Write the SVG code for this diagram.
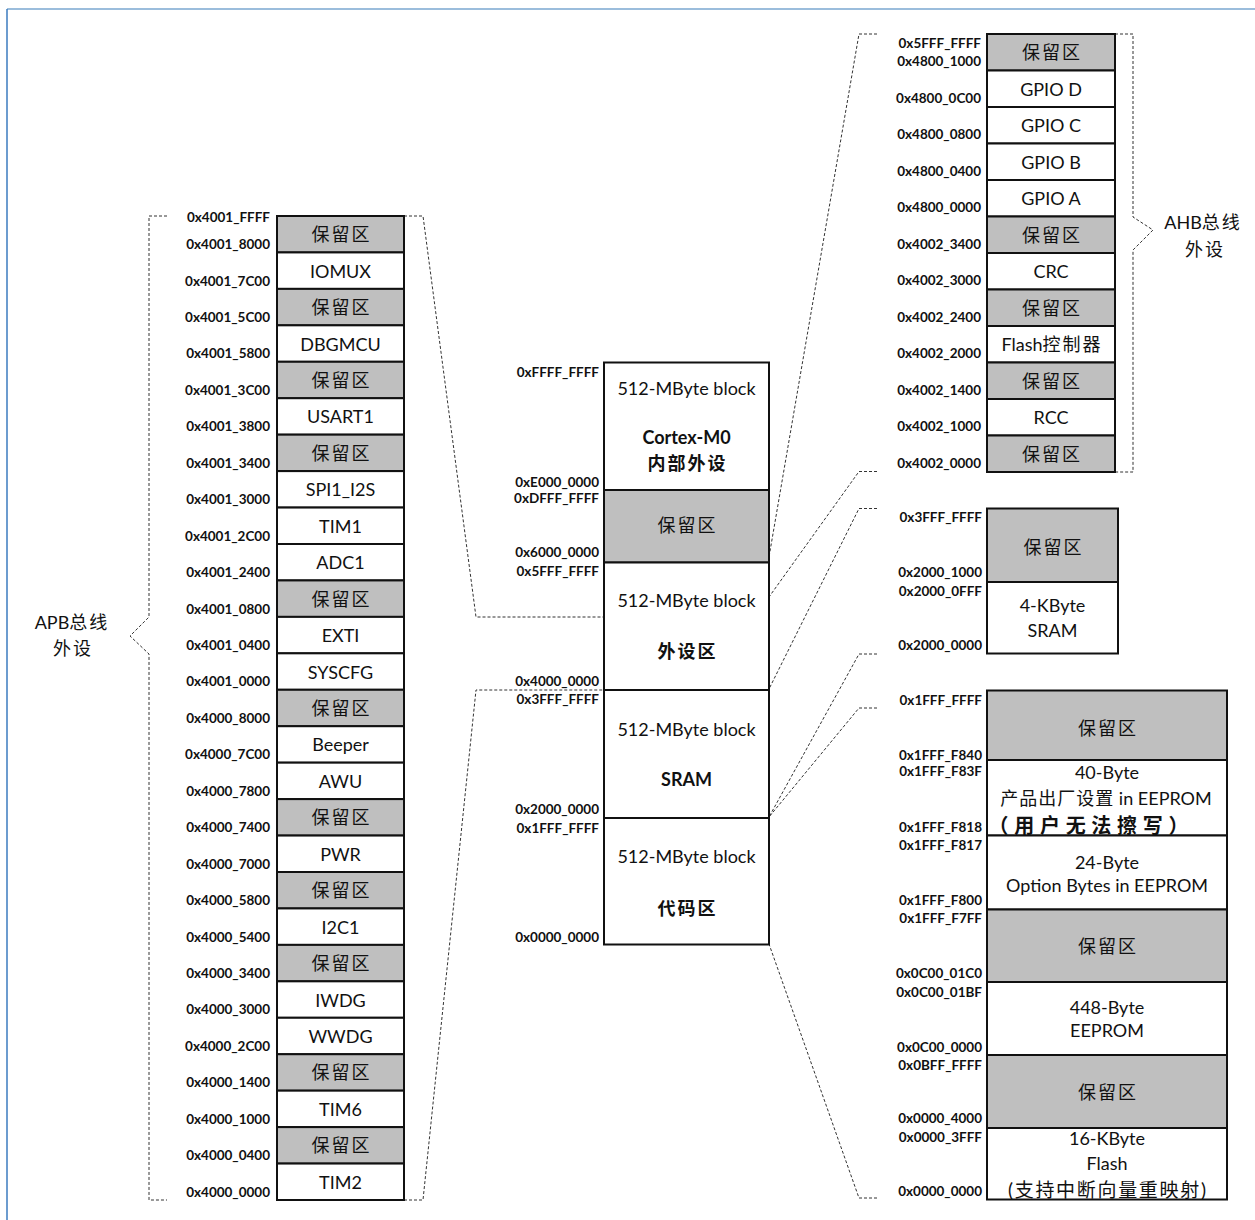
<svg xmlns="http://www.w3.org/2000/svg" width="1255" height="1220" viewBox="0 0 1255 1220">
<style>
text{font-family:Lato,"Noto Sans CJK SC",sans-serif;fill:#111}
.t{font-size:18px;text-anchor:middle}
.b{font-weight:bold}
.a{font-size:13.5px;font-weight:bold;text-anchor:end}
.cj{font-size:18px;letter-spacing:2px}
.w{fill:#fff;stroke:#111;stroke-width:2}
.r{fill:#bfbfbf;stroke:#111;stroke-width:2}
.d{fill:none;stroke:#333;stroke-width:1;stroke-dasharray:3 2}
</style>
<rect width="1255" height="1220" fill="#fff"/>
<line x1="7" y1="9" x2="1255" y2="9" stroke="#7aa7d1" stroke-width="1.5"/>
<line x1="7" y1="9" x2="7" y2="1220" stroke="#3b7bbf" stroke-width="1.5"/>

<g id="connectors">
<polyline class="d" points="167,216 149,216 149,617 130,636 149,654 149,1200 167,1200"/>
<polyline class="d" points="1115,34 1133,34 1133,217 1153,230 1133,250 1133,472 1115,472"/>
<polyline class="d" points="404,216 423,216 476,617 604,617"/>
<polyline class="d" points="404,1200 423,1200 476,690 604,690"/>
<polyline class="d" points="877,34 859,34 769,557"/>
<polyline class="d" points="877,471.5 859,471.5 769,597"/>
<polyline class="d" points="877,508.5 859,508.5 769,689"/>
<polyline class="d" points="877,654 859,654 769,817"/>
<polyline class="d" points="877,708 859,708 769,817"/>
<polyline class="d" points="877,1198 859,1198 769,944"/>
</g>

<g id="apb-label"><text class="t" x="72" y="628.5">APB<tspan class="cj">总线</tspan></text><text class="t cj" x="73" y="654.5">外设</text></g>
<g id="ahb-label"><text class="t" x="1203" y="228.5">AHB<tspan class="cj">总线</tspan></text><text class="t cj" x="1205" y="255.5">外设</text></g>

<g id="apb">
<g id="apb-r0"><rect class="r" x="277" y="216" width="127" height="36.44"/><text class="t cj" x="341.5" y="241">保留区</text></g>
<g id="apb-iomux"><rect class="w" x="277" y="252.44" width="127" height="36.44"/><text class="t" x="340.5" y="277.5">IOMUX</text></g>
<g id="apb-r2"><rect class="r" x="277" y="288.89" width="127" height="36.44"/><text class="t cj" x="341.5" y="314">保留区</text></g>
<g id="apb-dbgmcu"><rect class="w" x="277" y="325.33" width="127" height="36.44"/><text class="t" x="340.5" y="350.5">DBGMCU</text></g>
<g id="apb-r4"><rect class="r" x="277" y="361.78" width="127" height="36.44"/><text class="t cj" x="341.5" y="387">保留区</text></g>
<g id="apb-usart1"><rect class="w" x="277" y="398.22" width="127" height="36.44"/><text class="t" x="340.5" y="423.4">USART1</text></g>
<g id="apb-r6"><rect class="r" x="277" y="434.67" width="127" height="36.44"/><text class="t cj" x="341.5" y="459.9">保留区</text></g>
<g id="apb-spi1"><rect class="w" x="277" y="471.11" width="127" height="36.44"/><text class="t" x="340.5" y="496.3">SPI1_I2S</text></g>
<g id="apb-tim1"><rect class="w" x="277" y="507.56" width="127" height="36.44"/><text class="t" x="340.5" y="532.8">TIM1</text></g>
<g id="apb-adc1"><rect class="w" x="277" y="544" width="127" height="36.44"/><text class="t" x="340.5" y="569.2">ADC1</text></g>
<g id="apb-r10"><rect class="r" x="277" y="580.44" width="127" height="36.44"/><text class="t cj" x="341.5" y="605.6">保留区</text></g>
<g id="apb-exti"><rect class="w" x="277" y="616.89" width="127" height="36.44"/><text class="t" x="340.5" y="642.1">EXTI</text></g>
<g id="apb-syscfg"><rect class="w" x="277" y="653.33" width="127" height="36.44"/><text class="t" x="340.5" y="678.5">SYSCFG</text></g>
<g id="apb-r13"><rect class="r" x="277" y="689.78" width="127" height="36.44"/><text class="t cj" x="341.5" y="715">保留区</text></g>
<g id="apb-beeper"><rect class="w" x="277" y="726.22" width="127" height="36.44"/><text class="t" x="340.5" y="751.4">Beeper</text></g>
<g id="apb-awu"><rect class="w" x="277" y="762.67" width="127" height="36.44"/><text class="t" x="340.5" y="787.9">AWU</text></g>
<g id="apb-r16"><rect class="r" x="277" y="799.11" width="127" height="36.44"/><text class="t cj" x="341.5" y="824.3">保留区</text></g>
<g id="apb-pwr"><rect class="w" x="277" y="835.56" width="127" height="36.44"/><text class="t" x="340.5" y="860.8">PWR</text></g>
<g id="apb-r18"><rect class="r" x="277" y="872" width="127" height="36.44"/><text class="t cj" x="341.5" y="897.2">保留区</text></g>
<g id="apb-i2c1"><rect class="w" x="277" y="908.44" width="127" height="36.44"/><text class="t" x="340.5" y="933.6">I2C1</text></g>
<g id="apb-r20"><rect class="r" x="277" y="944.89" width="127" height="36.44"/><text class="t cj" x="341.5" y="970.1">保留区</text></g>
<g id="apb-iwdg"><rect class="w" x="277" y="981.33" width="127" height="36.44"/><text class="t" x="340.5" y="1006.5">IWDG</text></g>
<g id="apb-wwdg"><rect class="w" x="277" y="1017.78" width="127" height="36.44"/><text class="t" x="340.5" y="1043">WWDG</text></g>
<g id="apb-r23"><rect class="r" x="277" y="1054.22" width="127" height="36.44"/><text class="t cj" x="341.5" y="1079.4">保留区</text></g>
<g id="apb-tim6"><rect class="w" x="277" y="1090.67" width="127" height="36.44"/><text class="t" x="340.5" y="1115.9">TIM6</text></g>
<g id="apb-r25"><rect class="r" x="277" y="1127.11" width="127" height="36.44"/><text class="t cj" x="341.5" y="1152.3">保留区</text></g>
<g id="apb-tim2"><rect class="w" x="277" y="1163.56" width="127" height="36.44"/><text class="t" x="340.5" y="1188.8">TIM2</text></g>
</g>

<g id="apb-addr">
<text class="a" x="270" y="221.5">0x4001_FFFF</text>
<text class="a" x="270" y="249">0x4001_8000</text>
<text class="a" x="270" y="285.5">0x4001_7C00</text>
<text class="a" x="270" y="321.9">0x4001_5C00</text>
<text class="a" x="270" y="358.4">0x4001_5800</text>
<text class="a" x="270" y="394.8">0x4001_3C00</text>
<text class="a" x="270" y="431.3">0x4001_3800</text>
<text class="a" x="270" y="467.7">0x4001_3400</text>
<text class="a" x="270" y="504.2">0x4001_3000</text>
<text class="a" x="270" y="540.6">0x4001_2C00</text>
<text class="a" x="270" y="577">0x4001_2400</text>
<text class="a" x="270" y="613.5">0x4001_0800</text>
<text class="a" x="270" y="649.9">0x4001_0400</text>
<text class="a" x="270" y="686.4">0x4001_0000</text>
<text class="a" x="270" y="722.8">0x4000_8000</text>
<text class="a" x="270" y="759.3">0x4000_7C00</text>
<text class="a" x="270" y="795.7">0x4000_7800</text>
<text class="a" x="270" y="832.2">0x4000_7400</text>
<text class="a" x="270" y="868.6">0x4000_7000</text>
<text class="a" x="270" y="905">0x4000_5800</text>
<text class="a" x="270" y="941.5">0x4000_5400</text>
<text class="a" x="270" y="977.9">0x4000_3400</text>
<text class="a" x="270" y="1014.4">0x4000_3000</text>
<text class="a" x="270" y="1050.8">0x4000_2C00</text>
<text class="a" x="270" y="1087.3">0x4000_1400</text>
<text class="a" x="270" y="1123.7">0x4000_1000</text>
<text class="a" x="270" y="1160.2">0x4000_0400</text>
<text class="a" x="270" y="1196.6">0x4000_0000</text>
</g>

<g id="main">
<g id="main-cortex"><rect class="w" x="604" y="362.5" width="165" height="127.5"/><text class="t" x="686.5" y="394.5">512-MByte block</text><text class="t b" x="686.5" y="443.5">Cortex-M0</text><text class="t b cj" x="687.5" y="470">内部外设</text></g>
<g id="main-reserved"><rect class="r" x="604" y="490" width="165" height="72.5"/><text class="t cj" x="687.5" y="532">保留区</text></g>
<g id="main-periph"><rect class="w" x="604" y="562.5" width="165" height="127.5"/><text class="t" x="686.5" y="606.5">512-MByte block</text><text class="t b cj" x="687.5" y="658">外设区</text></g>
<g id="main-sram"><rect class="w" x="604" y="690" width="165" height="128"/><text class="t" x="686.5" y="735.5">512-MByte block</text><text class="t b" x="686.5" y="785.5">SRAM</text></g>
<g id="main-code"><rect class="w" x="604" y="818" width="165" height="126.5"/><text class="t" x="686.5" y="862.5">512-MByte block</text><text class="t b cj" x="687.5" y="915">代码区</text></g>
</g>

<g id="main-addr">
<text class="a" x="599" y="376.5">0xFFFF_FFFF</text>
<text class="a" x="599" y="486.5">0xE000_0000</text>
<text class="a" x="599" y="503">0xDFFF_FFFF</text>
<text class="a" x="599" y="557">0x6000_0000</text>
<text class="a" x="599" y="576">0x5FFF_FFFF</text>
<text class="a" x="599" y="686">0x4000_0000</text>
<text class="a" x="599" y="704">0x3FFF_FFFF</text>
<text class="a" x="599" y="814">0x2000_0000</text>
<text class="a" x="599" y="833">0x1FFF_FFFF</text>
<text class="a" x="599" y="942">0x0000_0000</text>
</g>

<g id="ahb">
<g id="ahb-r0"><rect class="r" x="987" y="34" width="128" height="36.5"/><text class="t cj" x="1052" y="59.25">保留区</text></g>
<g id="ahb-gpiod"><rect class="w" x="987" y="70.5" width="128" height="36.5"/><text class="t" x="1051" y="95.75">GPIO D</text></g>
<g id="ahb-gpioc"><rect class="w" x="987" y="107" width="128" height="36.5"/><text class="t" x="1051" y="132.25">GPIO C</text></g>
<g id="ahb-gpiob"><rect class="w" x="987" y="143.5" width="128" height="36.5"/><text class="t" x="1051" y="168.75">GPIO B</text></g>
<g id="ahb-gpioa"><rect class="w" x="987" y="180" width="128" height="36.5"/><text class="t" x="1051" y="205.25">GPIO A</text></g>
<g id="ahb-r5"><rect class="r" x="987" y="216.5" width="128" height="36.5"/><text class="t cj" x="1052" y="241.75">保留区</text></g>
<g id="ahb-crc"><rect class="w" x="987" y="253" width="128" height="36.5"/><text class="t" x="1051" y="278.25">CRC</text></g>
<g id="ahb-r7"><rect class="r" x="987" y="289.5" width="128" height="36.5"/><text class="t cj" x="1052" y="314.75">保留区</text></g>
<g id="ahb-flash"><rect class="w" x="987" y="326" width="128" height="36.5"/><text class="t" x="1052" y="351.25">Flash<tspan class="cj">控制器</tspan></text></g>
<g id="ahb-r9"><rect class="r" x="987" y="362.5" width="128" height="36.5"/><text class="t cj" x="1052" y="387.75">保留区</text></g>
<g id="ahb-rcc"><rect class="w" x="987" y="399" width="128" height="36.5"/><text class="t" x="1051" y="424.25">RCC</text></g>
<g id="ahb-r11"><rect class="r" x="987" y="435.5" width="128" height="36.5"/><text class="t cj" x="1052" y="460.75">保留区</text></g>
</g>

<g id="ahb-addr">
<text class="a" x="981" y="48">0x5FFF_FFFF</text>
<text class="a" x="981" y="66">0x4800_1000</text>
<text class="a" x="981" y="102.5">0x4800_0C00</text>
<text class="a" x="981" y="139">0x4800_0800</text>
<text class="a" x="981" y="175.5">0x4800_0400</text>
<text class="a" x="981" y="212">0x4800_0000</text>
<text class="a" x="981" y="248.5">0x4002_3400</text>
<text class="a" x="981" y="285">0x4002_3000</text>
<text class="a" x="981" y="321.5">0x4002_2400</text>
<text class="a" x="981" y="358">0x4002_2000</text>
<text class="a" x="981" y="394.5">0x4002_1400</text>
<text class="a" x="981" y="431">0x4002_1000</text>
<text class="a" x="981" y="467.5">0x4002_0000</text>
</g>

<g id="sram">
<g id="sram-reserved"><rect class="r" x="987" y="508.5" width="131" height="73.5"/><text class="t cj" x="1053.5" y="553.5">保留区</text></g>
<g id="sram-4k"><rect class="w" x="987" y="582" width="131" height="71.5"/><text class="t" x="1052.5" y="611.5">4-KByte</text><text class="t" x="1052.5" y="636.5">SRAM</text></g>
</g>
<g id="sram-addr">
<text class="a" x="982" y="522">0x3FFF_FFFF</text>
<text class="a" x="982" y="577">0x2000_1000</text>
<text class="a" x="982" y="595.5">0x2000_0FFF</text>
<text class="a" x="982" y="650">0x2000_0000</text>
</g>

<g id="code">
<g id="code-r0"><rect class="r" x="987" y="690.5" width="240" height="69.5"/><text class="t cj" x="1108" y="735">保留区</text></g>
<g id="code-factory"><rect class="w" x="987" y="760" width="240" height="75.5"/><text class="t" x="1107" y="778.5">40-Byte</text><text class="t" x="1106" y="805"><tspan class="cj" style="letter-spacing:1px">产品出厂设置</tspan> in EEPROM</text><text class="t b" x="1088.5" y="833" style="font-size:20px" textLength="200" lengthAdjust="spacing">（用户无法擦写）</text></g>
<g id="code-option"><rect class="w" x="987" y="835.5" width="240" height="74"/><text class="t" x="1107" y="868.5">24-Byte</text><text class="t" x="1107" y="891.5">Option Bytes in EEPROM</text></g>
<g id="code-r3"><rect class="r" x="987" y="909.5" width="240" height="72.5"/><text class="t cj" x="1108" y="952.5">保留区</text></g>
<g id="code-eeprom"><rect class="w" x="987" y="982" width="240" height="73"/><text class="t" x="1107" y="1013.5">448-Byte</text><text class="t" x="1107" y="1036.5">EEPROM</text></g>
<g id="code-r5"><rect class="r" x="987" y="1055" width="240" height="73"/><text class="t cj" x="1108" y="1098.5">保留区</text></g>
<g id="code-flash"><rect class="w" x="987" y="1128" width="240" height="71.5"/><text class="t" x="1107" y="1145">16-KByte</text><text class="t" x="1107" y="1170">Flash</text><text class="t" x="1107" y="1196.5" style="font-size:19px" textLength="198" lengthAdjust="spacing">(支持中断向量重映射)</text></g>
</g>
<g id="code-addr">
<text class="a" x="982" y="704.8">0x1FFF_FFFF</text>
<text class="a" x="982" y="759.8">0x1FFF_F840</text>
<text class="a" x="982" y="775.5">0x1FFF_F83F</text>
<text class="a" x="982" y="831.5">0x1FFF_F818</text>
<text class="a" x="982" y="849.8">0x1FFF_F817</text>
<text class="a" x="982" y="904.8">0x1FFF_F800</text>
<text class="a" x="982" y="923">0x1FFF_F7FF</text>
<text class="a" x="982" y="977.5">0x0C00_01C0</text>
<text class="a" x="982" y="996.5">0x0C00_01BF</text>
<text class="a" x="982" y="1051.5">0x0C00_0000</text>
<text class="a" x="982" y="1069.8">0x0BFF_FFFF</text>
<text class="a" x="982" y="1123">0x0000_4000</text>
<text class="a" x="982" y="1142">0x0000_3FFF</text>
<text class="a" x="982" y="1195.5">0x0000_0000</text>
</g>
</svg>
